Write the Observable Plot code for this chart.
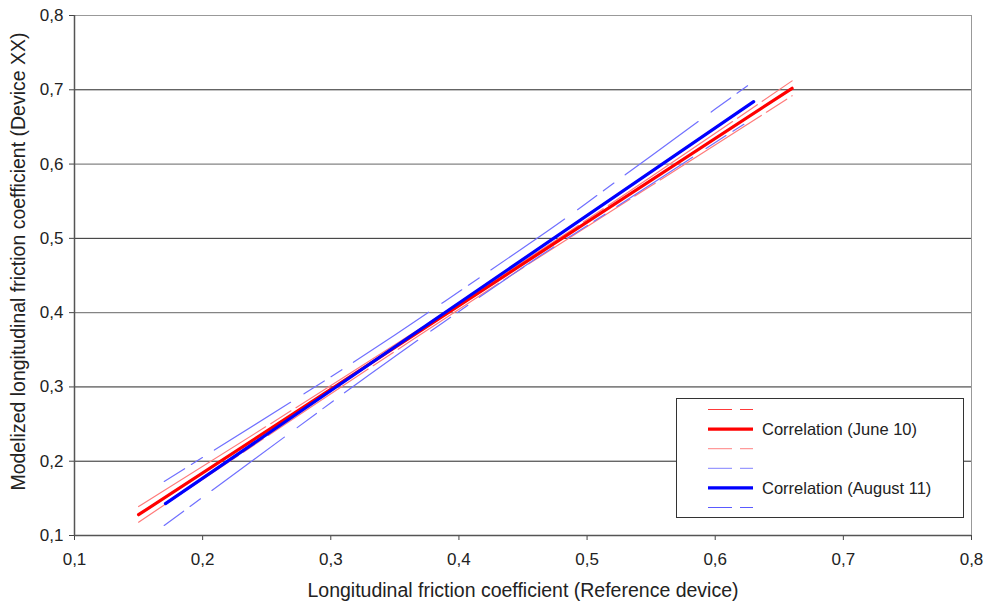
<!DOCTYPE html>
<html>
<head>
<meta charset="utf-8">
<script src="https://cdn.jsdelivr.net/npm/d3@7"></script>
<script src="https://cdn.jsdelivr.net/npm/@observablehq/plot@0.6"></script>
<style>
  html, body { margin: 0; padding: 0; background: #fff; }
  #wrap { position: relative; width: 985px; height: 601px; font-family: "Liberation Sans", Arial, sans-serif; }
  #legend { position: absolute; left: 676px; top: 398px; width: 286px; height: 118px; border: 1px solid #333; background: #fff; }
</style>
</head>
<body>
<div id="wrap"></div>
<script>
// Axis ticks
const xTicks = [0.1, 0.2, 0.3, 0.4, 0.5, 0.6, 0.7, 0.8];
const yTicks = [0.1, 0.2, 0.3, 0.4, 0.5, 0.6, 0.7, 0.8];
const gridDark = [0.2, 0.3, 0.5, 0.7];
const gridLight = [0.4, 0.6];
const xTitle = "Longitudinal friction coefficient (Reference device)";
const yTitle = "Modelized longitudinal friction coefficient (Device XX)";

// Correlation (June 10): regression line end points
const juneX = [0.15, 0.66];
const juneY = [0.128, 0.702];
// June 10 band lines
const juneBandX = [0.15, 0.25, 0.35, 0.45, 0.55, 0.66];
const juneUpper = [0.139, 0.2472, 0.3569, 0.4686, 0.5828, 0.712];
const juneLower = [0.118, 0.2332, 0.3479, 0.4606, 0.5708, 0.692];

// Correlation (August 11): regression line end points
const augX = [0.171, 0.63];
const augY = [0.143, 0.684];
// August 11 band lines
const augBandX = [0.17, 0.27, 0.35, 0.45, 0.5, 0.6, 0.63];
const augUpper = [0.1727, 0.2808, 0.370, 0.487, 0.548, 0.674, 0.711];
const augLower = [0.1135, 0.2404, 0.341, 0.461, 0.517, 0.629, 0.661];

const legendLabels = ["", "Correlation (June 10)", "", "", "Correlation (August 11)", ""];

const fmt = d => d.toFixed(1).replace(".", ",");
const pts = (xs, ys) => xs.map((x, i) => ({x, y: ys[i]}));
const FONT = "'Liberation Sans', Arial, sans-serif";

const chart = Plot.plot({
  width: 985,
  height: 601,
  marginTop: 15,
  marginRight: 14,
  marginBottom: 66,
  marginLeft: 74,
  style: {fontFamily: FONT, fontSize: "17px", color: "#222", background: "#fff"},
  x: {domain: [0.1, 0.8]},
  y: {domain: [0.1, 0.8]},
  marks: [
    Plot.gridY(gridDark, {stroke: "#111", strokeOpacity: 0.9, strokeWidth: 1}),
    Plot.gridY(gridLight, {stroke: "#777", strokeOpacity: 0.9, strokeWidth: 1.2}),
    Plot.frame({stroke: "#999"}),
    Plot.axisX(xTicks, {tickFormat: fmt, tickSize: 5, tickPadding: 12, stroke: "#444", fontSize: 17, label: null}),
    Plot.axisY(yTicks, {tickFormat: fmt, tickSize: 5, tickPadding: 6, stroke: "#444", fontSize: 17, label: null}),
    Plot.text([xTitle], {frameAnchor: "bottom", dy: 55, lineAnchor: "middle", textAnchor: "middle", fontSize: 19.5, fill: "#222"}),
    Plot.text([yTitle], {frameAnchor: "left", rotate: -90, dx: -56, dy: -14, lineAnchor: "middle", textAnchor: "middle", fontSize: 19.5, fill: "#222"}),
    Plot.ruleX([0.1], {stroke: "#555", strokeWidth: 1.5}),
    Plot.ruleY([0.1], {stroke: "#555", strokeWidth: 1.5}),
    // band lines
    Plot.line(pts(juneBandX, juneUpper), {x: "x", y: "y", stroke: "#ff7a7a", strokeWidth: 1.2, strokeDasharray: "150,6,24,6", curve: "natural"}),
    Plot.line(pts(juneBandX, juneLower), {x: "x", y: "y", stroke: "#ff7a7a", strokeWidth: 1.2, strokeDasharray: "120,6,24,6", curve: "natural"}),
    Plot.line(pts(augBandX, augUpper), {x: "x", y: "y", stroke: "#7070ff", strokeWidth: 1.2, strokeDasharray: "24,8,13,14,90,16", curve: "natural"}),
    Plot.line(pts(augBandX, augLower), {x: "x", y: "y", stroke: "#7070ff", strokeWidth: 1.2, strokeDasharray: "24,8,13,14,90,16", curve: "natural"}),
    // regression lines
    Plot.line(pts(juneX, juneY), {x: "x", y: "y", stroke: "#ff0000", strokeWidth: 3.2}),
    Plot.line(pts(augX, augY), {x: "x", y: "y", stroke: "#0000ff", strokeWidth: 3.2})
  ]
});

const wrap = document.getElementById("wrap");
wrap.appendChild(chart);

// Legend overlay
const legendStyles = [
  {stroke: "#ff3a3a", width: 1.2, dash: "24,8"},
  {stroke: "#ff0000", width: 3.2, dash: null},
  {stroke: "#ff9a9a", width: 1.2, dash: "24,8"},
  {stroke: "#9a9aff", width: 1.2, dash: "24,8"},
  {stroke: "#0000ff", width: 3.2, dash: null},
  {stroke: "#5a5aff", width: 1.2, dash: "24,8"}
];
const leg = document.createElement("div");
leg.id = "legend";
const ns = "http://www.w3.org/2000/svg";
const svg = document.createElementNS(ns, "svg");
svg.setAttribute("width", 286);
svg.setAttribute("height", 118);
legendStyles.forEach((s, i) => {
  const cy = 10.5 + i * 19.6;
  const ln = document.createElementNS(ns, "line");
  ln.setAttribute("x1", 31); ln.setAttribute("x2", 76);
  ln.setAttribute("y1", cy); ln.setAttribute("y2", cy);
  ln.setAttribute("stroke", s.stroke);
  ln.setAttribute("stroke-width", s.width);
  if (s.dash) ln.setAttribute("stroke-dasharray", s.dash);
  svg.appendChild(ln);
  if (legendLabels[i]) {
    const t = document.createElementNS(ns, "text");
    t.setAttribute("x", 85); t.setAttribute("y", cy);
    t.setAttribute("dy", "0.35em");
    t.setAttribute("font-size", "16.5px");
    t.setAttribute("font-family", FONT);
    t.setAttribute("fill", "#222");
    t.textContent = legendLabels[i];
    svg.appendChild(t);
  }
});
leg.appendChild(svg);
wrap.appendChild(leg);
</script>
</body>
</html>
